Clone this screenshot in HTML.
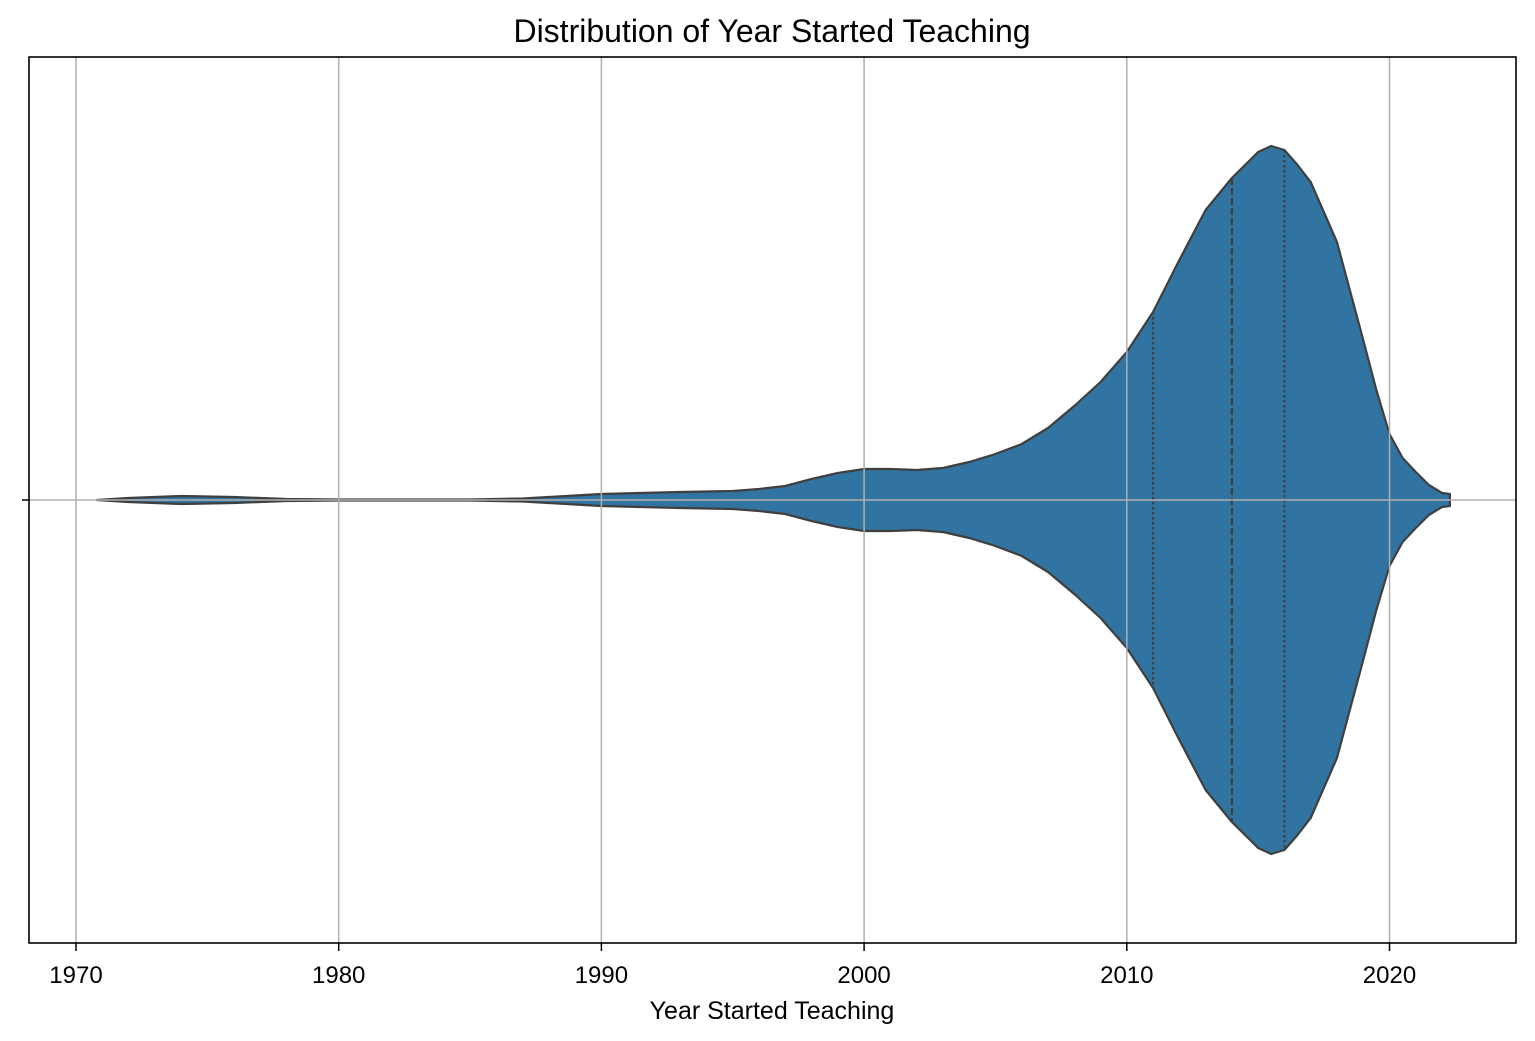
<!DOCTYPE html>
<html><head><meta charset="utf-8"><style>
body{margin:0;background:#fff}
svg{display:block;font-family:"Liberation Sans",Arial,sans-serif}
</style></head><body>
<svg id="chart" width="1535" height="1041"></svg>
<script>
const years=[1970.8,1972,1974,1976,1978,1980,1985,1987,1988,1990,1993,1995,1996,1997,1998,1999,2000,2001,2002,2003,2004,2005,2006,2007,2008,2009,2010,2011,2012,2013,2014,2015,2015.5,2016,2016.5,2017,2018,2019,2019.5,2020,2020.5,2021,2021.5,2022,2022.3];
const density=[0,2,4,3,1,0.5,0.5,1.5,3,6,8,9,11,14,21,27,31,31,30,32,38,46,56,72,94,118,148,188,240,290,322,348,354,350,335,318,258,160,110,66,42,28,15,7,6];
const quartiles=[2011,2014,2016];
const xTicks=[1970,1980,1990,2000,2010,2020];
const NS="http://www.w3.org/2000/svg";
const svg=document.getElementById('chart');
const L=29,R=1516,T=57,B=943,CY=500;
const xs=v=>76+(v-1970)*26.27;
const hw=d=>d;
function mk(t,a){const e=document.createElementNS(NS,t);for(const k in a)e.setAttribute(k,a[k]);svg.appendChild(e);return e;}
function interp(v){for(let i=0;i<years.length-1;i++){if(v>=years[i]&&v<=years[i+1]){const f=(v-years[i])/(years[i+1]-years[i]);return density[i]+f*(density[i+1]-density[i]);}}return 0;}
const topPts=years.map((y,i)=>xs(y)+','+(CY-hw(density[i])));
const botPts=years.slice().reverse().map((y,i)=>xs(y)+','+(CY+hw(density[years.length-1-i])));
const vio=mk('polygon',{points:topPts.concat(botPts).join(' '),fill:'#3274a1',stroke:'#3f3f3f','stroke-width':2.2,'stroke-linejoin':'round'});


quartiles.forEach((q,i)=>{const h=hw(interp(q));
const ln=mk('line',{x1:xs(q),x2:xs(q),y1:CY-h,y2:CY+h,stroke:'#3f3f3f','stroke-width':2.2,'stroke-dasharray':i==1?'7,3':'2.5,2.5'});

});
xTicks.forEach(t=>{const g=mk('line',{x1:xs(t),x2:xs(t),y1:T,y2:B,stroke:'#b0b0b0','stroke-width':1.5});


const tk=mk('line',{x1:xs(t),x2:xs(t),y1:B,y2:B+8,stroke:'#000','stroke-width':1.5});


const tx=mk('text',{x:xs(t),y:983,'text-anchor':'middle',style:'font-size:24px',fill:'#000'});tx.textContent=t;

});
const hg=mk('line',{x1:L,x2:R,y1:CY,y2:CY,stroke:'#b0b0b0','stroke-width':1.5});


const yt=mk('line',{x1:L-7,x2:L,y1:CY,y2:CY,stroke:'#000','stroke-width':1.5});


const fr=mk('rect',{x:L,y:T,width:R-L,height:B-T,fill:'none',stroke:'#000','stroke-width':1.6});


const ti=mk('text',{x:772,y:42,'text-anchor':'middle',style:'font-size:32px',fill:'#000'});ti.textContent='Distribution of Year Started Teaching';


const xl=mk('text',{x:772,y:1019,'text-anchor':'middle',style:'font-size:25px',fill:'#000'});xl.textContent='Year Started Teaching';


</script>
</body></html>
